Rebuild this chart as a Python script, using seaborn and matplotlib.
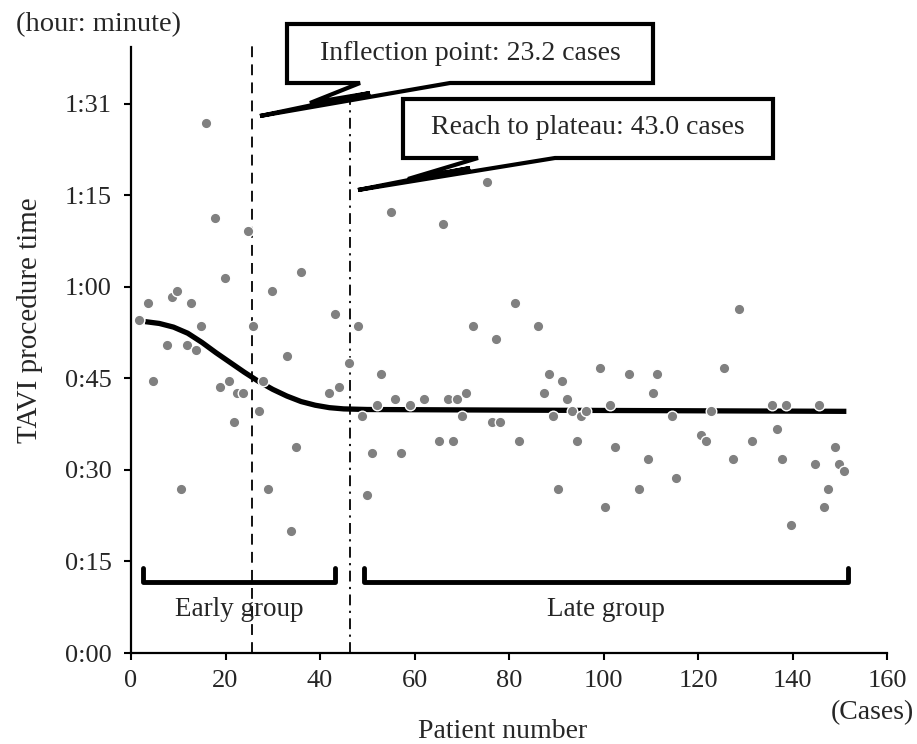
import numpy as np
import pandas as pd
import matplotlib
matplotlib.use("Agg")
import matplotlib.pyplot as plt
import seaborn as sns
from matplotlib.patches import Polygon

# patient number / procedure time (minutes)
patient_no = [1.7, 3.7, 4.6, 7.7, 8.6, 9.7, 10.6, 11.9, 12.8, 13.8, 14.8, 15.9, 17.8, 18.8,
              19.8, 20.7, 21.8, 22.5, 23.8, 24.7, 25.8, 27.0, 28.0, 28.9, 29.9, 33.0, 33.9,
              34.9, 35.9, 42.0, 43.1, 44.0, 46.1, 48.0, 48.9, 49.9, 51.0, 52.0, 52.9, 55.0,
              55.9, 57.1, 59.0, 62.1, 65.1, 66.1, 67.1, 68.1, 69.1, 70.1, 71.0, 72.3, 75.3,
              76.3, 77.2, 78.2, 81.3, 82.2, 86.2, 87.4, 88.4, 89.4, 90.4, 91.3, 92.3, 93.4,
              94.4, 95.3, 96.4, 99.3, 100.3, 101.4, 102.4, 105.5, 107.5, 109.5, 110.5, 111.4,
              114.5, 115.4, 120.7, 121.6, 122.7, 125.6, 127.5, 128.6, 131.5, 135.7, 136.7,
              137.8, 138.7, 139.7, 144.7, 145.7, 146.7, 147.6, 148.9, 149.9, 150.9]
proc_min = [54.5, 57.4, 44.5, 50.5, 58.4, 59.3, 26.9, 50.5, 57.4, 49.6, 53.6, 86.9, 71.2, 43.6,
            61.4, 44.5, 37.8, 42.6, 42.6, 69.2, 53.6, 39.7, 44.5, 26.9, 59.3, 48.6, 20.0,
            33.8, 62.4, 42.6, 55.5, 43.6, 47.6, 53.6, 38.8, 25.9, 32.8, 40.7, 45.7, 72.2,
            41.6, 32.8, 40.7, 41.6, 34.7, 70.3, 41.6, 34.7, 41.6, 38.8, 42.6, 53.6, 77.2,
            37.8, 51.5, 37.8, 57.4, 34.7, 53.6, 42.6, 45.7, 38.8, 26.9, 44.6, 41.6, 39.7,
            34.7, 38.8, 39.7, 46.7, 24.0, 40.7, 33.8, 45.7, 26.9, 31.8, 42.6, 45.7,
            38.8, 28.7, 35.7, 34.7, 39.7, 46.7, 31.8, 56.4, 34.7, 40.7, 36.7,
            31.8, 40.7, 20.9, 30.9, 40.7, 24.0, 26.9, 33.8, 30.9, 29.9]

# fitted learning curve, read at regular steps
curve_x = [3, 6, 9, 12, 15, 18, 21, 24, 27, 30, 33, 36, 39, 42, 45, 50, 80, 151.4]
curve_y = [54.3, 54.0, 53.4, 52.4, 50.9, 49.2, 47.6, 46.0, 44.5, 43.2, 42.1, 41.2, 40.6,
           40.2, 40.0, 39.9, 39.8, 39.6]

inflection_x = 25.6
plateau_x = 46.3
early_span = [2.5, 43.2]
late_span = [49.3, 151.7]

y_ticks = [0, 15, 30, 45, 60, 75, 90]
y_labels = ["0:00", "0:15", "0:30", "0:45", "1:00", "1:15", "1:31"]
x_ticks = list(range(0, 161, 20))

sns.set_style("ticks")
plt.rcParams["font.family"] = ["Liberation Serif", "DejaVu Serif"]

W, H = 917, 744
fig = plt.figure(figsize=(W / 100, H / 100), dpi=100)
ax = fig.add_axes([131 / W, 1 - 653 / H, 756 / W, 606 / H])


def px(x, y):
    return (x / W, 1 - y / H)


df = pd.DataFrame({"patient": patient_no, "time": proc_min})
fit = pd.DataFrame({"patient": curve_x, "time": curve_y})

sns.lineplot(data=fit, x="patient", y="time", ax=ax, color="black", lw=3.8,
             solid_capstyle="butt", solid_joinstyle="round", zorder=3)
sns.scatterplot(data=df, x="patient", y="time", ax=ax, color="#808080", s=58,
                edgecolor="white", linewidth=1, zorder=4)

ax.plot([inflection_x, inflection_x], [0, 100.2], color="black", lw=1.3,
        ls=(0, (6, 4)), clip_on=False, zorder=2)
ax.plot([plateau_x, plateau_x], [0, 91.1], color="black", lw=1.3,
        ls=(0, (6, 3, 1.2, 3)), clip_on=False, zorder=2)

for lo, hi in [early_span, late_span]:
    ax.plot([lo, lo, hi, hi], [13.9, 11.6, 11.6, 13.9], color="black", lw=3.5,
            solid_joinstyle="round", solid_capstyle="round", zorder=2)
ax.text(sum(early_span) / 2, 7.2, "Early group", ha="center", va="center", fontsize=19.5)
ax.text(sum(late_span) / 2, 7.2, "Late group", ha="center", va="center", fontsize=19.5)

ax.set_xlim(0, 160)
ax.set_ylim(0, 99.3)
ax.set_xticks(x_ticks)
ax.set_yticks(y_ticks)
ax.set_yticklabels(y_labels)
ax.tick_params(axis="both", labelsize=19, width=1.5, length=5, direction="out", color="black")
ax.tick_params(axis="y", pad=9)
ax.tick_params(axis="x", pad=7)
for sp in ["left", "bottom"]:
    ax.spines[sp].set_linewidth(1.6)
    ax.spines[sp].set_color("black")
sns.despine(ax=ax)
ax.set_xlabel("")
ax.set_ylabel("")

# axis texts
fig.text(*px(99, 25), "(hour: minute)", ha="center", va="center", fontsize=20.5)
fig.text(*px(30, 320), "TAVI procedure time", ha="center", va="center", fontsize=21,
         rotation=90)
fig.text(*px(503, 731), "Patient number", ha="center", va="center", fontsize=20)
fig.text(*px(914, 713), "(Cases)", ha="right", va="center", fontsize=20)

# callouts: box corners plus a zig-zag tail (pixel positions)
callouts = [
    ([(287, 24), (653, 24), (653, 83), (450, 83), (260, 116), (370, 93), (310, 103),
      (360, 83), (287, 83)], (470, 54), "Inflection point: 23.2 cases"),
    ([(403, 99), (773, 99), (773, 158), (555, 158), (358, 190), (470, 168), (408, 179),
      (478, 158), (403, 158)], (588, 128), "Reach to plateau: 43.0 cases"),
]
for pts, center, label in callouts:
    poly = Polygon([px(*p) for p in pts], closed=True, transform=fig.transFigure,
                   facecolor="white", edgecolor="black", lw=3, joinstyle="miter",
                   zorder=10)
    fig.patches.append(poly)
    fig.text(*px(*center), label, ha="center", va="center", fontsize=20, zorder=11)

fig.savefig("out.png", dpi=100)
